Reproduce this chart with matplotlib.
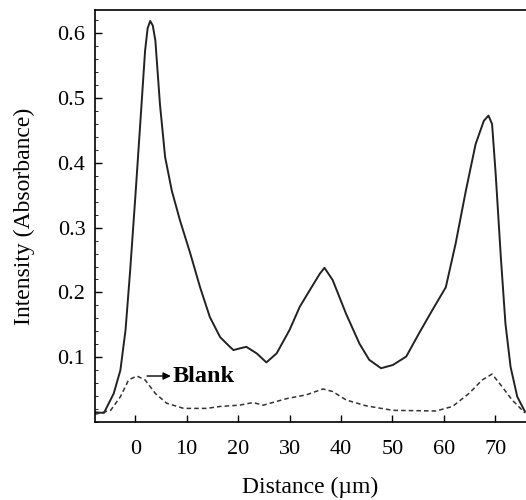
import numpy as np
import matplotlib.pyplot as plt
from matplotlib.ticker import MultipleLocator

# sample profile (solid line)
sample_x = [-7.8, -6.1, -4.2, -2.9, -1.9, -1.0, 0.0, 1.0, 1.9, 2.4, 2.9, 3.4, 3.9,
            4.8, 5.8, 7.1, 8.7, 10.7, 12.6, 14.5, 16.5, 18.4, 19.1, 20.5, 21.6,
            23.6, 25.5, 27.5, 30.0, 32.0, 33.9, 35.9, 36.8, 38.4, 41.0, 43.6, 45.5,
            47.8, 50.1, 52.7, 55.2, 57.8, 60.4, 62.3, 64.3, 66.2, 67.8, 68.7, 69.4,
            70.1, 71.1, 72.0, 73.0, 74.3, 75.8]
sample_y = [0.015, 0.014, 0.044, 0.080, 0.142, 0.234, 0.347, 0.465, 0.573, 0.608,
            0.619, 0.612, 0.589, 0.490, 0.409, 0.357, 0.311, 0.260, 0.208, 0.162,
            0.131, 0.116, 0.111, 0.114, 0.116, 0.106, 0.092, 0.106, 0.142, 0.178,
            0.203, 0.229, 0.238, 0.219, 0.167, 0.121, 0.096, 0.083, 0.088, 0.101,
            0.137, 0.173, 0.208, 0.275, 0.357, 0.429, 0.465, 0.473, 0.460, 0.383,
            0.255, 0.152, 0.085, 0.039, 0.016]

# blank profile (dashed line)
blank_x = [-7.8, -4.8, -2.9, -1.3, 0.3, 1.9, 3.9, 6.1, 9.4, 13.9, 16.5, 20.3, 22.9,
           24.9, 29.4, 33.3, 36.5, 38.4, 41.0, 44.9, 50.1, 58.5, 61.7, 64.9, 67.5,
           69.4, 71.4, 73.3, 75.8]
blank_y = [0.012, 0.018, 0.039, 0.065, 0.071, 0.065, 0.044, 0.029, 0.021, 0.021,
           0.024, 0.026, 0.030, 0.026, 0.036, 0.042, 0.051, 0.047, 0.034, 0.025,
           0.018, 0.017, 0.024, 0.044, 0.065, 0.074, 0.054, 0.034, 0.014]

xticks = [0, 10, 20, 30, 40, 50, 60, 70]
yticks = [0.1, 0.2, 0.3, 0.4, 0.5, 0.6]

plt.rcParams['font.family'] = ['Liberation Serif', 'DejaVu Serif']

fig = plt.figure(figsize=(5.26, 5.0), dpi=100)
ax = fig.add_axes([0.181, 0.156, 0.819, 0.824])

ax.plot(sample_x, sample_y, color='#222222', lw=1.4)
ax.plot(blank_x, blank_y, color='#333333', lw=1.1, ls=(0, (3, 2)))

# arrow pointing at the blank trace label
ax.annotate('', xy=(6.9, 0.071), xytext=(2.3, 0.071),
            arrowprops=dict(arrowstyle='-|>', color='black', lw=1.0,
                            mutation_scale=11, shrinkA=0, shrinkB=0))
ax.text(7.2, 0.071, 'Blank', fontsize=17.5, fontweight='bold', va='center', ha='left')

ax.set_xlim(-7.8, 76)
ax.set_ylim(0, 0.636)
ax.set_xticks(xticks)
ax.set_yticks(yticks)
ax.yaxis.set_minor_locator(MultipleLocator(0.02))
ax.tick_params(direction='in', labelsize=16, length=5, width=1.0)
ax.tick_params(axis='x', pad=13)
ax.tick_params(axis='y', pad=7)
ax.tick_params(which='minor', direction='in', length=2, width=0.6)
ax.spines['right'].set_visible(False)
for s in ['left', 'bottom', 'top']:
    ax.spines[s].set_linewidth(1.2)

ax.set_xlabel('Distance (µm)', fontsize=17, labelpad=13)
ax.set_ylabel('Intensity (Absorbance)', fontsize=17, labelpad=16)

fig.savefig('out.png', dpi=100)
